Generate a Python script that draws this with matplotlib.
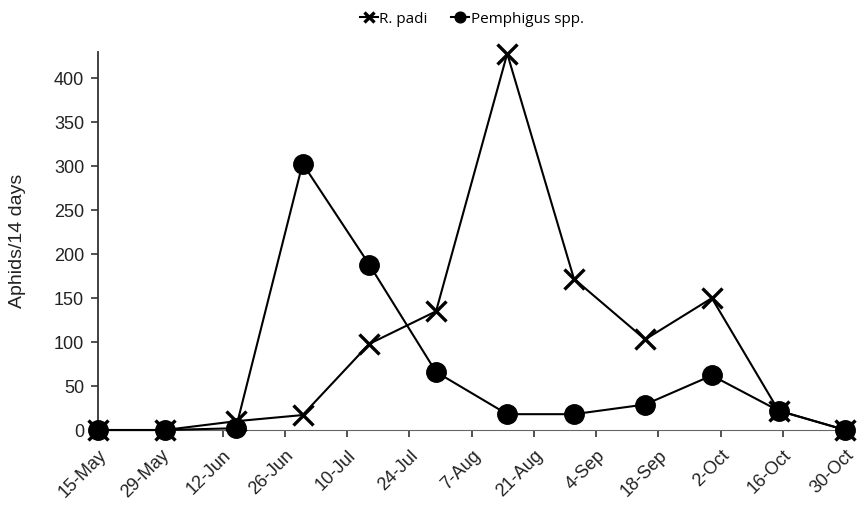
import numpy as np
import pandas as pd
import matplotlib
matplotlib.use('Agg')
import matplotlib.pyplot as plt

plt.rcParams['font.family'] = ['Liberation Sans', 'DejaVu Sans']

# sampling dates (semi-monthly) and counts
dates = pd.to_datetime(['2010-05-15', '2010-05-30', '2010-06-15', '2010-06-30',
                        '2010-07-15', '2010-07-30', '2010-08-15', '2010-08-30',
                        '2010-09-15', '2010-09-30', '2010-10-15', '2010-10-30'])
r_padi = [0, 0, 10, 17, 98, 135, 428, 172, 103, 150, 22, 0]
pemphigus = [0, 0, 2, 303, 188, 66, 18, 18, 29, 62, 22, 0]

tick_dates = pd.date_range('2010-05-15', periods=13, freq='14D')
tick_labels = ['15-May', '29-May', '12-Jun', '26-Jun', '10-Jul', '24-Jul', '7-Aug',
               '21-Aug', '4-Sep', '18-Sep', '2-Oct', '16-Oct', '30-Oct']

fig = plt.figure(figsize=(8.58, 5.23), dpi=100)
ax = fig.add_axes([0.1142, 0.1778, 0.871, 0.723])

ax.plot(dates, r_padi, color='black', lw=1.5, marker='x', ms=14, mew=2.4,
        label='R. padi', clip_on=False, zorder=3)
ax.plot(dates, pemphigus, color='black', lw=1.5, marker='o', ms=14,
        label='Pemphigus spp.', clip_on=False, zorder=3)

ax.set_xlim(tick_dates[0], tick_dates[-1])
ax.set_ylim(0, 430)
ax.set_yticks(np.arange(0, 401, 50))
ax.set_xticks(tick_dates)
ax.set_xticklabels(tick_labels, rotation=45, ha='right', rotation_mode='anchor')

ax.spines['top'].set_visible(False)
ax.spines['right'].set_visible(False)
ax.spines['left'].set_linewidth(1.3)
ax.spines['left'].set_color('#333333')
ax.spines['bottom'].set_color('#666666')
ax.tick_params(axis='both', direction='out', length=5, width=1.2, labelsize=13,
               colors='#333333', labelcolor='#222222')
ax.tick_params(axis='x', pad=7)
ax.tick_params(axis='y', pad=5)

ax.set_ylabel('Aphids/14 days', fontsize=14, labelpad=20, color='#222222')

ax.legend(loc='lower center', bbox_to_anchor=(0.5, 1.03), ncol=2, frameon=False,
          prop={'family': 'Open Sans', 'size': 11}, handlelength=1.2,
          handletextpad=0.1, columnspacing=1.5, markerscale=0.55)

plt.savefig('out.png', dpi=100)
